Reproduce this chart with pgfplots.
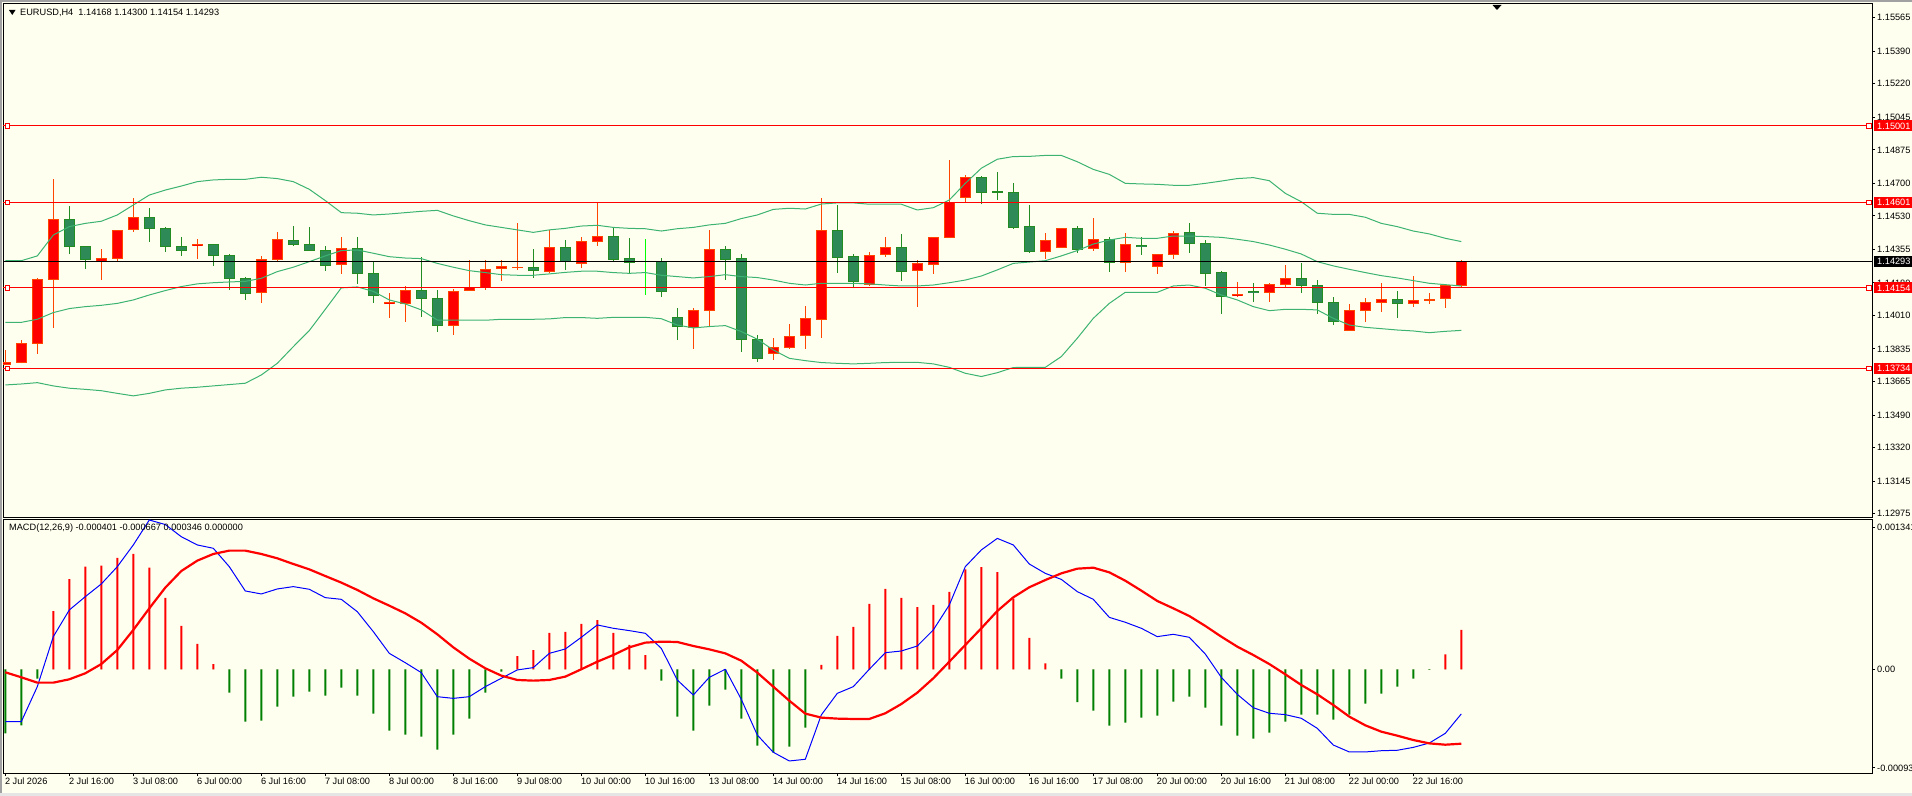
\documentclass[border=0pt]{standalone}
\usepackage{fontspec}
\setmainfont{Liberation Sans}
\usepackage{pgfplots}
\usepackage{pgfplotstable}
\pgfplotsset{compat=1.18}
\definecolor{bgc}{RGB}{255,255,240}
\definecolor{bullw}{RGB}{255,69,0}
\definecolor{bullf}{RGB}{255,0,0}
\definecolor{bearw}{RGB}{34,139,34}
\definecolor{bearf}{RGB}{46,139,87}
\definecolor{bbc}{RGB}{60,179,113}
\definecolor{hgreen}{RGB}{0,128,0}
\definecolor{dojic}{RGB}{0,255,0}
\definecolor{mblue}{RGB}{0,0,255}
\newcommand\mtf{\fontsize{9.2bp}{10bp}\selectfont}

\pgfplotstableread{
i o h l c
0 1.13755 1.13830 1.13751 1.13765
1 1.13765 1.13882 1.13760 1.13865
2 1.13865 1.14204 1.13811 1.14199
3 1.14199 1.14721 1.13946 1.14512
6 1.14293 1.14357 1.14195 1.14305
7 1.14309 1.14455 1.14291 1.14455
8 1.14460 1.14622 1.14448 1.14523
12 1.14375 1.14410 1.14305 1.14382
16 1.14129 1.14321 1.14075 1.14303
17 1.14303 1.14446 1.14296 1.14408
21 1.14275 1.14420 1.14227 1.14361
24 1.14070 1.14128 1.13997 1.14077
25 1.14072 1.14164 1.13976 1.14141
28 1.13957 1.14147 1.13908 1.14136
29 1.14141 1.14300 1.14140 1.14157
30 1.14155 1.14300 1.14143 1.14251
31 1.14256 1.14300 1.14192 1.14267
32 1.14260 1.14493 1.14248 1.14263
34 1.14239 1.14458 1.14230 1.14366
36 1.14282 1.14420 1.14258 1.14397
37 1.14397 1.14603 1.14373 1.14423
43 1.13946 1.14049 1.13835 1.14037
44 1.14037 1.14457 1.13955 1.14356
48 1.13812 1.13891 1.13778 1.13844
49 1.13842 1.13966 1.13835 1.13901
50 1.13905 1.14060 1.13835 1.13995
51 1.13990 1.14624 1.13894 1.14455
54 1.14173 1.14340 1.14166 1.14324
55 1.14329 1.14420 1.14316 1.14366
57 1.14246 1.14300 1.14056 1.14282
58 1.14275 1.14418 1.14227 1.14418
59 1.14418 1.14822 1.14418 1.14598
60 1.14627 1.14744 1.14603 1.14732
65 1.14343 1.14443 1.14307 1.14402
66 1.14366 1.14465 1.14366 1.14465
68 1.14361 1.14519 1.14349 1.14408
70 1.14288 1.14441 1.14239 1.14382
72 1.14267 1.14329 1.14228 1.14329
73 1.14329 1.14451 1.14307 1.14439
77 1.14114 1.14183 1.14108 1.14122
79 1.14131 1.14178 1.14082 1.14173
80 1.14171 1.14274 1.14154 1.14204
84 1.13932 1.14070 1.13931 1.14037
85 1.14037 1.14101 1.13976 1.14079
86 1.14079 1.14180 1.14030 1.14094
88 1.14073 1.14216 1.14056 1.14089
89 1.14089 1.14128 1.14072 1.14094
90 1.14100 1.14175 1.14051 1.14168
91 1.14168 1.14300 1.14154 1.14293
}\bull

\pgfplotstableread{
i o h l c
4 1.14512 1.14582 1.14331 1.14369
5 1.14371 1.14371 1.14255 1.14302
9 1.14523 1.14571 1.14394 1.14463
10 1.14465 1.14474 1.14342 1.14369
11 1.14371 1.14420 1.14321 1.14349
13 1.14382 1.14382 1.14269 1.14322
14 1.14324 1.14331 1.14143 1.14202
15 1.14204 1.14211 1.14091 1.14124
18 1.14402 1.14477 1.14375 1.14380
19 1.14382 1.14472 1.14349 1.14349
20 1.14350 1.14371 1.14244 1.14270
22 1.14361 1.14420 1.14175 1.14228
23 1.14230 1.14293 1.14077 1.14114
26 1.14141 1.14316 1.14002 1.14098
27 1.14100 1.14143 1.13926 1.13957
33 1.14263 1.14357 1.14208 1.14244
35 1.14366 1.14404 1.14248 1.14291
38 1.14423 1.14469 1.14295 1.14302
39 1.14305 1.14415 1.14230 1.14288
41 1.14293 1.14310 1.14108 1.14134
42 1.14000 1.14049 1.13882 1.13952
45 1.14356 1.14373 1.14195 1.14302
46 1.14309 1.14331 1.13821 1.13886
47 1.13886 1.13908 1.13769 1.13785
52 1.14455 1.14587 1.14232 1.14312
53 1.14319 1.14331 1.14152 1.14187
56 1.14366 1.14436 1.14190 1.14239
61 1.14732 1.14739 1.14592 1.14653
62 1.14658 1.14759 1.14613 1.14653
63 1.14653 1.14702 1.14463 1.14469
64 1.14476 1.14587 1.14338 1.14343
67 1.14465 1.14476 1.14338 1.14356
69 1.14408 1.14418 1.14239 1.14288
71 1.14376 1.14420 1.14326 1.14369
74 1.14444 1.14493 1.14338 1.14385
75 1.14387 1.14402 1.14166 1.14228
76 1.14235 1.14244 1.14020 1.14108
78 1.14136 1.14178 1.14082 1.14129
81 1.14204 1.14282 1.14129 1.14168
82 1.14168 1.14195 1.14020 1.14077
83 1.14079 1.14107 1.13962 1.13978
87 1.14094 1.14136 1.13999 1.14073
}\bear

\pgfplotstableread{
i o h l c
40 1.14292 1.14410 1.14117 1.14292
}\doji

\pgfplotstableread{
i up mid lo
0 1.14296 1.13974 1.13647
1 1.14296 1.13974 1.13652
2 1.14321 1.13990 1.13659
3 1.14430 1.14025 1.13642
4 1.14474 1.14046 1.13630
5 1.14491 1.14056 1.13624
6 1.14502 1.14063 1.13617
7 1.14535 1.14073 1.13603
8 1.14587 1.14091 1.13590
9 1.14639 1.14117 1.13603
10 1.14665 1.14140 1.13621
11 1.14686 1.14161 1.13630
12 1.14709 1.14175 1.13635
13 1.14718 1.14181 1.13642
14 1.14721 1.14185 1.13649
15 1.14721 1.14188 1.13656
16 1.14732 1.14204 1.13699
17 1.14725 1.14239 1.13760
18 1.14709 1.14262 1.13847
19 1.14669 1.14291 1.13931
20 1.14610 1.14321 1.14042
21 1.14547 1.14349 1.14154
22 1.14544 1.14352 1.14159
23 1.14535 1.14335 1.14136
24 1.14540 1.14317 1.14091
25 1.14547 1.14310 1.14070
26 1.14554 1.14307 1.14039
27 1.14559 1.14282 1.13986
28 1.14530 1.14262 1.13985
29 1.14505 1.14244 1.13985
30 1.14483 1.14234 1.13985
31 1.14470 1.14223 1.13990
32 1.14457 1.14220 1.13990
33 1.14444 1.14220 1.13990
34 1.14457 1.14227 1.13992
35 1.14465 1.14235 1.13999
36 1.14477 1.14241 1.13999
37 1.14481 1.14241 1.13995
38 1.14470 1.14234 1.14000
39 1.14465 1.14230 1.14000
40 1.14463 1.14234 1.14000
41 1.14451 1.14220 1.13993
42 1.14463 1.14213 1.13960
43 1.14470 1.14206 1.13945
44 1.14483 1.14213 1.13952
45 1.14491 1.14223 1.13957
46 1.14516 1.14213 1.13926
47 1.14535 1.14208 1.13886
48 1.14564 1.14195 1.13830
49 1.14570 1.14178 1.13786
50 1.14566 1.14169 1.13774
51 1.14592 1.14178 1.13764
52 1.14598 1.14178 1.13760
53 1.14598 1.14178 1.13757
54 1.14591 1.14175 1.13760
55 1.14592 1.14169 1.13764
56 1.14591 1.14164 1.13765
57 1.14561 1.14164 1.13765
58 1.14573 1.14169 1.13757
59 1.14613 1.14181 1.13739
60 1.14700 1.14195 1.13708
61 1.14779 1.14216 1.13691
62 1.14826 1.14248 1.13711
63 1.14840 1.14282 1.13738
64 1.14841 1.14289 1.13739
65 1.14846 1.14296 1.13739
66 1.14846 1.14321 1.13795
67 1.14813 1.14349 1.13891
68 1.14773 1.14383 1.13995
69 1.14747 1.14404 1.14073
70 1.14700 1.14418 1.14131
71 1.14697 1.14413 1.14131
72 1.14695 1.14413 1.14131
73 1.14690 1.14425 1.14164
74 1.14690 1.14425 1.14169
75 1.14700 1.14422 1.14152
76 1.14712 1.14418 1.14117
77 1.14725 1.14408 1.14091
78 1.14730 1.14396 1.14056
79 1.14714 1.14378 1.14035
80 1.14648 1.14356 1.14042
81 1.14604 1.14331 1.14042
82 1.14544 1.14291 1.14039
83 1.14538 1.14269 1.13995
84 1.14538 1.14251 1.13960
85 1.14523 1.14234 1.13948
86 1.14491 1.14218 1.13941
87 1.14474 1.14206 1.13934
88 1.14451 1.14192 1.13929
89 1.14436 1.14178 1.13920
90 1.14413 1.14171 1.13927
91 1.14396 1.14164 1.13932
}\bb

\pgfplotstableread{
i h m s
0 -0.000574 -0.000469 -0.000026
1 -0.000502 -0.000469 -0.000071
2 -0.000083 -0.000155 -0.000119
3 0.000524 0.000294 -0.000119
4 0.000811 0.000533 -0.000089
5 0.000922 0.000653 -0.000035
6 0.000931 0.000767 0.000048
7 0.001000 0.000922 0.000174
8 0.001036 0.001117 0.000354
9 0.000913 0.001341 0.000548
10 0.000641 0.001300 0.000734
11 0.000390 0.001191 0.000883
12 0.000228 0.001117 0.000976
13 0.000048 0.001087 0.001036
14 -0.000209 0.000922 0.001066
15 -0.000469 0.000704 0.001066
16 -0.000460 0.000677 0.001036
17 -0.000335 0.000722 0.000997
18 -0.000245 0.000743 0.000946
19 -0.000200 0.000719 0.000898
20 -0.000236 0.000644 0.000838
21 -0.000164 0.000629 0.000779
22 -0.000236 0.000518 0.000713
23 -0.000397 0.000339 0.000638
24 -0.000550 0.000144 0.000572
25 -0.000586 0.000060 0.000503
26 -0.000604 -0.000029 0.000419
27 -0.000720 -0.000245 0.000315
28 -0.000586 -0.000260 0.000198
29 -0.000442 -0.000245 0.000096
30 -0.000209 -0.000155 0.000010
31 -0.000020 -0.000080 -0.000056
32 0.000120 -0.000005 -0.000095
33 0.000174 0.000016 -0.000101
34 0.000327 0.000144 -0.000095
35 0.000336 0.000183 -0.000065
36 0.000408 0.000288 0.000001
37 0.000443 0.000399 0.000069
38 0.000327 0.000369 0.000129
39 0.000219 0.000348 0.000198
40 0.000129 0.000324 0.000240
41 -0.000101 0.000189 0.000249
42 -0.000424 -0.000095 0.000246
43 -0.000550 -0.000230 0.000210
44 -0.000326 -0.000071 0.000180
45 -0.000182 0.000001 0.000144
46 -0.000442 -0.000269 0.000078
47 -0.000685 -0.000589 -0.000029
48 -0.000747 -0.000744 -0.000155
49 -0.000694 -0.000822 -0.000281
50 -0.000523 -0.000807 -0.000397
51 0.000040 -0.000409 -0.000433
52 0.000300 -0.000215 -0.000442
53 0.000381 -0.000155 -0.000445
54 0.000587 0.000001 -0.000445
55 0.000722 0.000150 -0.000394
56 0.000641 0.000165 -0.000311
57 0.000560 0.000210 -0.000209
58 0.000578 0.000354 -0.000080
59 0.000695 0.000578 0.000069
60 0.000898 0.000922 0.000219
61 0.000919 0.001072 0.000369
62 0.000874 0.001176 0.000524
63 0.000635 0.001117 0.000647
64 0.000282 0.000946 0.000737
65 0.000054 0.000862 0.000802
66 -0.000083 0.000808 0.000862
67 -0.000293 0.000698 0.000904
68 -0.000370 0.000629 0.000913
69 -0.000505 0.000467 0.000871
70 -0.000478 0.000423 0.000796
71 -0.000433 0.000369 0.000707
72 -0.000415 0.000294 0.000614
73 -0.000290 0.000315 0.000548
74 -0.000245 0.000288 0.000479
75 -0.000344 0.000138 0.000390
76 -0.000505 -0.000071 0.000294
77 -0.000595 -0.000224 0.000204
78 -0.000622 -0.000344 0.000129
79 -0.000568 -0.000394 0.000048
80 -0.000469 -0.000406 -0.000044
81 -0.000406 -0.000439 -0.000140
82 -0.000406 -0.000529 -0.000224
83 -0.000451 -0.000679 -0.000320
84 -0.000406 -0.000741 -0.000424
85 -0.000308 -0.000741 -0.000502
86 -0.000218 -0.000730 -0.000559
87 -0.000155 -0.000726 -0.000595
88 -0.000083 -0.000700 -0.000634
89 -0.000005 -0.000661 -0.000664
90 0.000135 -0.000574 -0.000676
91 0.000354 -0.000400 -0.000667
}\macd

\pgfplotsset{
  eb/.style 2 args={forget plot, draw=none, mark=none,
    error bars/.cd, y dir=plus, y explicit, error mark=none,
    error bar style={line width=#1, draw=#2, solid}},
}
\tikzset{
  pricebox/.style={anchor=west, xshift=2bp, text=white, font=\mtf,
    inner xsep=3bp, inner ysep=0pt, minimum height=11bp,
    text height=6.6bp, text depth=0bp},
}

\begin{document}
\begin{tikzpicture}
\fill[bgc] (0,0) rectangle (1912bp,796bp);
\fill[black!37] (0,794bp) rectangle (1912bp,796bp);
\fill[black!37] (0,0) rectangle (1.5bp,796bp);
\fill[black!10] (0,0) rectangle (1912bp,3bp);

% ---------------- price panel ----------------
\begin{axis}[
  at={(3bp,278bp)}, anchor=south west, scale only axis,
  width=1869bp, height=514bp,
  xmin=-0.144, xmax=116.67, ymin=1.12952, ymax=1.15637,
  axis line style={line width=1bp, black},
  xtick=\empty,
  ytick pos=right, yticklabel pos=right,
  ytick={1.12975,1.13145,1.13320,1.13490,1.13665,1.13835,1.14010,1.14180,1.14355,1.14530,1.14700,1.14875,1.15045,1.15220,1.15390,1.15565},
  yticklabels={1.12975,1.13145,1.13320,1.13490,1.13665,1.13835,1.14010,1.14180,1.14355,1.14530,1.14700,1.14875,1.15045,1.15220,1.15390,1.15565},
  scaled y ticks=false,
  tick align=outside, major tick length=3bp,
  tick style={line width=1bp, black},
  yticklabel style={font=\mtf, anchor=west, inner sep=0pt, xshift=2bp},
  clip mode=individual,
]
% bullish candles
\addplot[eb={1bp}{bullw}] table[x=i, y=l, y error expr=\thisrow{h}-\thisrow{l}] {\bull};
\addplot[eb={11bp}{bullw}] table[x=i, y expr=\thisrow{o}-0.000026, y error expr=\thisrow{c}-\thisrow{o}+0.000052] {\bull};
\addplot[eb={9bp}{bullf}] table[x=i, y expr=\thisrow{o}+0.000026, y error expr={max(\thisrow{c}-\thisrow{o}-0.000052,0)}] {\bull};
% bearish candles
\addplot[eb={1bp}{bearw}] table[x=i, y=l, y error expr=\thisrow{h}-\thisrow{l}] {\bear};
\addplot[eb={11bp}{bearw}] table[x=i, y expr=\thisrow{c}-0.000026, y error expr=\thisrow{o}-\thisrow{c}+0.000052] {\bear};
\addplot[eb={9bp}{bearf}] table[x=i, y expr=\thisrow{c}+0.000026, y error expr={max(\thisrow{o}-\thisrow{c}-0.000052,0)}] {\bear};
% doji
\addplot[eb={1bp}{dojic}] table[x=i, y=l, y error expr=\thisrow{h}-\thisrow{l}] {\doji};
\addplot[eb={11bp}{dojic}] table[x=i, y expr=\thisrow{o}-0.000026, y error expr=0.000052] {\doji};
% Bollinger bands
\addplot[bbc, line width=1bp, forget plot] table[x=i, y=up] {\bb};
\addplot[bbc, line width=1bp, forget plot] table[x=i, y=mid] {\bb};
\addplot[bbc, line width=1bp, forget plot] table[x=i, y=lo] {\bb};
% horizontal levels
\addplot[red, line width=1bp, forget plot] coordinates {(-0.144,1.15001) (116.67,1.15001)};
\addplot[red, line width=1bp, forget plot] coordinates {(-0.144,1.14601) (116.67,1.14601)};
\addplot[red, line width=1bp, forget plot] coordinates {(-0.144,1.14154) (116.67,1.14154)};
\addplot[red, line width=1bp, forget plot] coordinates {(-0.144,1.13734) (116.67,1.13734)};
\addplot[black, line width=1bp, forget plot] coordinates {(-0.144,1.14293) (116.67,1.14293)};
\addplot[only marks, mark=square*, mark size=2.2bp, mark options={fill=white, draw=red, line width=0.8bp}, forget plot]
  coordinates {(0.12,1.15001) (116.48,1.15001) (0.12,1.14601) (116.48,1.14601) (0.12,1.14154) (116.48,1.14154) (0.12,1.13734) (116.48,1.13734)};
\node[pricebox, fill=red] at (axis cs:116.67,1.15001) {1.15001};
\node[pricebox, fill=red] at (axis cs:116.67,1.14601) {1.14601};
\node[pricebox, fill=red] at (axis cs:116.67,1.14154) {1.14154};
\node[pricebox, fill=red] at (axis cs:116.67,1.13734) {1.13734};
\node[pricebox, fill=black] at (axis cs:116.67,1.14293) {1.14293};
\end{axis}

% ---------------- MACD panel ----------------
\begin{axis}[
  at={(3bp,23bp)}, anchor=south west, scale only axis,
  width=1869bp, height=253bp,
  xmin=-0.144, xmax=116.67, ymin=-0.00093, ymax=0.001341,
  axis line style={line width=1bp, black},
  xtick={0,4,...,88},
  xticklabels={2 Jul 2026,2 Jul 16:00,3 Jul 08:00,6 Jul 00:00,6 Jul 16:00,7 Jul 08:00,8 Jul 00:00,8 Jul 16:00,9 Jul 08:00,10 Jul 00:00,10 Jul 16:00,13 Jul 08:00,14 Jul 00:00,14 Jul 16:00,15 Jul 08:00,16 Jul 00:00,16 Jul 16:00,17 Jul 08:00,20 Jul 00:00,20 Jul 16:00,21 Jul 08:00,22 Jul 00:00,22 Jul 16:00},
  xtick pos=left,
  ytick pos=right, yticklabel pos=right,
  ytick={-0.000885,0,0.001278},
  yticklabels={-0.00093,0.00,0.001341},
  scaled y ticks=false, scaled x ticks=false,
  tick align=outside, major tick length=3bp,
  tick style={line width=1bp, black},
  yticklabel style={font=\mtf, anchor=west, inner sep=0pt, xshift=2bp},
  xticklabel style={font=\mtf, anchor=north west, inner sep=0pt, xshift=-0.5bp, yshift=-2bp},
]
\addplot[ybar, bar width=2bp, bar shift=0pt, fill=red, draw=none, forget plot] table[x=i, y expr={max(\thisrow{h},0)}] {\macd};
\addplot[ybar, bar width=2bp, bar shift=0pt, fill=hgreen, draw=none, forget plot] table[x=i, y expr={min(\thisrow{h},0)}] {\macd};
\addplot[mblue, line width=1bp, line join=round, forget plot] table[x=i, y=m] {\macd};
\addplot[red, line width=2.2bp, line join=round, forget plot] table[x=i, y=s] {\macd};
\end{axis}

% titles
\fill[black] (9bp,786bp) -- (15.5bp,786bp) -- (12.25bp,781bp) -- cycle;
\node[anchor=west, font=\mtf, inner sep=0pt] at (20bp,783.3bp) {EURUSD,H4\ \ 1.14168 1.14300 1.14154 1.14293};
\node[anchor=west, font=\mtf, inner sep=0pt] at (9bp,268bp) {MACD(12,26,9) -0.000401 -0.000667 0.000346 0.000000};
\fill[black] (1492.5bp,791bp) -- (1501.5bp,791bp) -- (1497bp,786bp) -- cycle;

\pgfresetboundingbox
\path[use as bounding box] (0,0) rectangle (1912bp,796bp);
\end{tikzpicture}
\end{document}
